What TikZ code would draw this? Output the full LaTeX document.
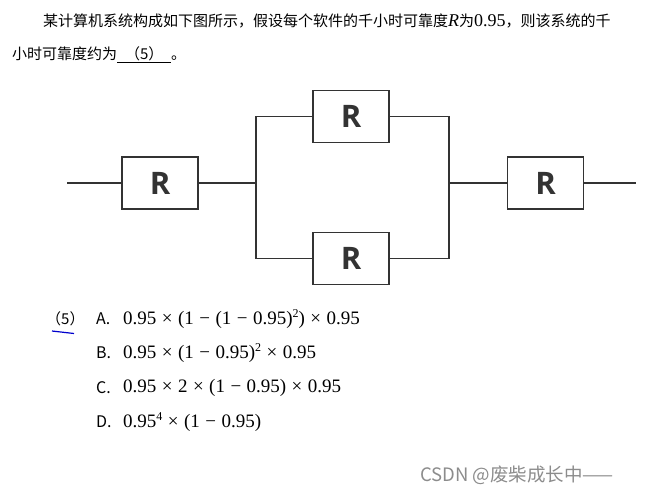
\documentclass[tikz,border=0pt]{standalone}
\usepackage{fontspec}
\newfontfamily\cjk{Noto Sans CJK SC}
\newfontfamily\rfont{Open Sans}
\newfontfamily\frm[WordSpace=1.15]{Liberation Serif}
\newcommand\supn[1]{\raisebox{0.36em}{\fontsize{12}{12}\selectfont #1}}
\begin{document}
\begin{tikzpicture}[x=1pt,y=-1pt,
  rbox/.style={draw=black!80, line width=1.8pt, minimum width=76pt, minimum height=52pt, inner sep=0pt,
    font=\rfont\bfseries\fontsize{31}{32}\selectfont, text=black!80},
  wire/.style={draw=black!80, line width=1.8pt},
  txt/.style={anchor=west, inner sep=0pt, font=\cjk\fontsize{15}{18}\selectfont},
  lab/.style={anchor=west, inner sep=0pt, font=\cjk\fontsize{16}{18}\selectfont},
  opt/.style={anchor=west, inner sep=0pt, font=\frm\fontsize{19}{21}\selectfont}]
\useasboundingbox (0,0) rectangle (646,496);
% question text
\node[txt] (q1) at (43,21) {某计算机系统构成如下图所示，假设每个软件的千小时可靠度{\frm\fontsize{18}{18}\selectfont\itshape R}为{\frm\fontsize{18}{18}\selectfont 0.95}，则该系统的千};
\node[txt] (q2) at (12,55) {小时可靠度约为\underline{\hbox to 54pt{\hfil（5）\hfil}}。};
% diagram
\node[rbox] (r1) at (160,183) {R};
\node[rbox] (rt) at (351,116.5) {R};
\node[rbox] (rb) at (351,258.5) {R};
\node[rbox] (r4) at (545.5,183) {R};
\coordinate (in) at (67,183);
\coordinate (out) at (636,183);
\coordinate (jl) at (256,183);
\coordinate (jlb) at (256,258.5);
\coordinate (jr) at (449,183);
\coordinate (jrb) at (449,258.5);
\draw[wire] (in) -- (r1.west);
\draw[wire] (r1.east) -- (jl);
\draw[wire] (rt.west) -| (jlb) -- (rb.west);
\draw[wire] (rt.east) -| (jrb) -- (rb.east);
\draw[wire] (jr) -- (r4.west);
\draw[wire] (r4.east) -- (out);
% options
\node[txt] (n5) at (46,319) {（5）};
\draw[blue!80!black, line width=1.2pt] (52,331) -- (74,333.5);
\node[lab] (oa) at (96,319) {A.};
\node[opt] (fa) at (123,319) {0.95 × (1 − (1 − 0.95)\supn{2}) × 0.95};
\node[lab] (ob) at (96,353) {B.};
\node[opt] (fb) at (123,353) {0.95 × (1 − 0.95)\supn{2} × 0.95};
\node[lab] (oc) at (96,388) {C.};
\node[opt] (fc) at (123,388) {0.95 × 2 × (1 − 0.95) × 0.95};
\node[lab] (od) at (96,422) {D.};
\node[opt] (fd) at (123,422) {0.95\supn{4} × (1 − 0.95)};
% watermark
\node[txt, text=black!45, font=\cjk\fontsize{18.5}{20}\selectfont] (wm) at (420,475) {CSDN @废柴成长中——};
\end{tikzpicture}
\end{document}
